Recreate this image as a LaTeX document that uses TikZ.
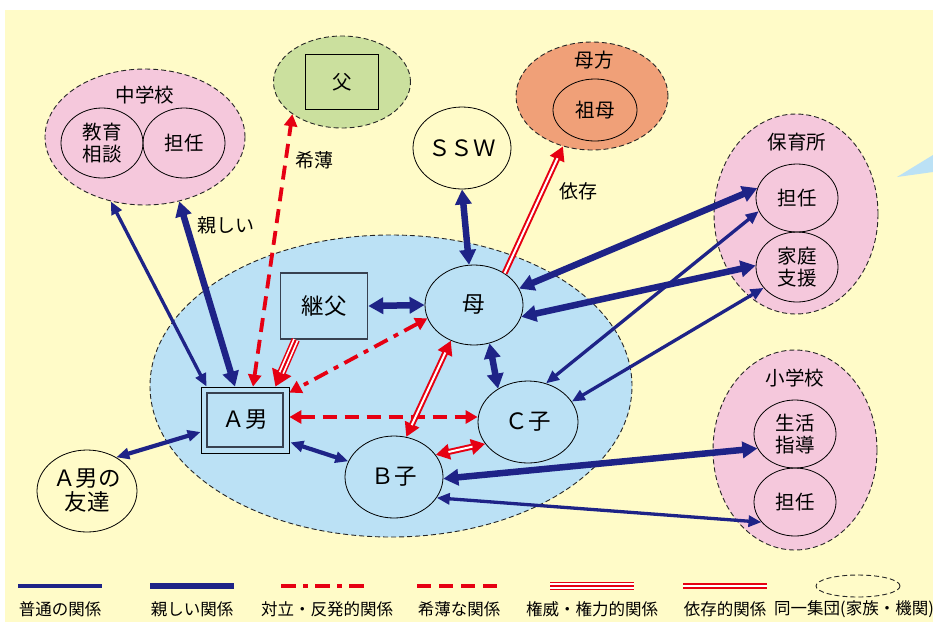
\documentclass[tikz,border=0pt]{standalone}
\usepackage{fontspec}
\setmainfont{Noto Sans CJK JP}
\usetikzlibrary{arrows.meta,shapes.geometric,calc}

\definecolor{cream}{RGB}{255,251,200}
\definecolor{famblue}{RGB}{187,225,245}
\definecolor{grppink}{RGB}{245,200,220}
\definecolor{grpgreen}{RGB}{203,224,158}
\definecolor{grporange}{RGB}{240,160,120}
\definecolor{navy}{RGB}{30,35,135}
\definecolor{relred}{RGB}{230,0,18}
\definecolor{boxgray}{RGB}{55,65,80}

\tikzset{
  grp/.style={ellipse, draw=black!85, dash pattern=on 5pt off 3pt, line width=0.9pt, inner sep=0pt},
  mem/.style={ellipse, draw=black, line width=0.8pt, inner sep=0pt, align=center},
  bigtxt/.style={font=\fontsize{22.5}{24}\selectfont},
  midtxt/.style={font=\fontsize{19.5}{22}\selectfont},
  lbltxt/.style={font=\fontsize{19}{20}\selectfont},
  legtxt/.style={font=\fontsize{16.5}{18}\selectfont},
  relnormal/.style={draw=navy, line width=3.3pt,
    arrows={Triangle[length=13pt,width=11pt]-Triangle[length=13pt,width=11pt]}},
  relclose/.style={draw=navy, line width=6.5pt,
    arrows={Triangle[length=15pt,width=16pt]-Triangle[length=15pt,width=16pt]}},
  relweak/.style={draw=relred, line width=3.8pt, dash pattern=on 14pt off 8pt,
    arrows={Triangle[length=12pt,width=13pt]-Triangle[length=12pt,width=13pt]}},
  relconflict/.style={draw=relred, line width=3.8pt, dash pattern=on 15pt off 7pt on 5pt off 7pt,
    arrows={Triangle[length=12pt,width=13pt]-Triangle[length=12pt,width=13pt]}},
  reldep/.style={draw=relred, line width=6pt,
    arrows={-Triangle[length=14pt,width=15pt]},
    postaction={draw=white, line width=2pt, arrows=-, shorten >=13pt}},
  reldepboth/.style={draw=relred, line width=6pt,
    arrows={Triangle[length=14pt,width=15pt]-Triangle[length=14pt,width=15pt]},
    postaction={draw=white, line width=2pt, arrows=-, shorten >=13pt, shorten <=13pt}},
  relauth/.style={draw=relred, line width=8.5pt,
    arrows={-Triangle[length=16pt,width=20pt]},
    postaction={draw=white, line width=5.5pt, arrows=-, shorten >=15pt},
    postaction={draw=relred, line width=2pt, arrows=-, shorten >=15pt}},
}

\begin{document}
\begin{tikzpicture}[x=1pt,y=-1pt]
\useasboundingbox (0,0) rectangle (933,622);
\fill[white] (0,0) rectangle (933,622);
\fill[cream] (5,10) rectangle (933,622);
\fill[famblue] (897,177) -- (933,155) -- (933,172) -- cycle;

% family group
\node[grp, fill=famblue, minimum width=482pt, minimum height=302pt] (family) at (391,386) {};

% 中学校
\node[grp, fill=grppink, minimum width=200pt, minimum height=136pt] (chu) at (145,137) {};
\node[midtxt] (chulab) at (145,95) {中学校};
\node[mem, midtxt, minimum width=82pt, minimum height=70pt] (kyoiku) at (102,143) {教育\\相談};
\node[mem, midtxt, minimum width=82pt, minimum height=70pt] (chutan) at (184,143) {担任};

% 父
\node[grp, fill=grpgreen, minimum width=137pt, minimum height=92pt] (fu) at (342,82) {};
\node[draw=black, line width=1.4pt, minimum width=73pt, minimum height=55pt, midtxt] (fubox) at (342,82) {父};

% 母方
\node[grp, fill=grporange, minimum width=152pt, minimum height=108pt] (bokata) at (592,96) {};
\node[midtxt] (bokatalab) at (594,60) {母方};
\node[mem, midtxt, minimum width=84pt, minimum height=62pt] (sobo) at (595,110) {祖母};

% SSW
\node[mem, fill=cream, bigtxt, minimum width=98pt, minimum height=82pt] (ssw) at (462,148) {ＳＳＷ};

% 保育所
\node[grp, fill=grppink, minimum width=164pt, minimum height=200pt] (hoiku) at (796,214) {};
\node[midtxt] (hoikulab) at (797,142) {保育所};
\node[mem, midtxt, minimum width=82pt, minimum height=68pt] (hotan) at (797,198) {担任};
\node[mem, midtxt, minimum width=82pt, minimum height=70pt] (katei) at (797,267) {家庭\\支援};

% 小学校
\node[grp, fill=grppink, minimum width=164pt, minimum height=200pt] (sho) at (795,450) {};
\node[midtxt] (sholab) at (795,378) {小学校};
\node[mem, midtxt, minimum width=82pt, minimum height=68pt] (seikatsu) at (795,434) {生活\\指導};
\node[mem, midtxt, minimum width=82pt, minimum height=68pt] (shotan) at (795,502) {担任};

% A男の友達
\node[mem, fill=cream, bigtxt, minimum width=100pt, minimum height=82pt] (tomo) at (87,491) {Ａ男の\\友達};

% family members
\node[draw=black, line width=0.8pt, fill=famblue, minimum width=88pt, minimum height=66pt] (Aman) at (245,420) {};
\node[draw=boxgray, line width=1.8pt, minimum width=76pt, minimum height=54pt, bigtxt] (Amanin) at (245,420) {Ａ男};
\node[draw=boxgray, line width=1.5pt, fill=famblue, minimum width=87pt, minimum height=66pt, bigtxt] (keifu) at (324,306) {継父};
\node[mem, fill=famblue, bigtxt, minimum width=98pt, minimum height=80pt] (haha) at (474,305) {母};
\node[mem, fill=famblue, bigtxt, minimum width=100pt, minimum height=82pt] (cko) at (528,422) {Ｃ子};
\node[mem, fill=famblue, bigtxt, minimum width=98pt, minimum height=82pt] (bko) at (394,477) {Ｂ子};

% connectors
\draw[relnormal] ($(Aman.north west)+(6,0)$) -- (chu.242);
\draw[relclose] ($(Aman.north)+(-10,0)$) -- (chu.298);
\draw[relweak] ($(Aman.north)+(8,0)$) -- (fu.213);
\draw[relauth] ($(keifu.south west)+(16,0)$) -- ($(Aman.north east)+(-14,0)$);
\draw[relconflict] (haha.196) -- ($(Aman.north east)+(0,6)$);
\draw[relweak] ($(Aman.east)+(0,-3)$) -- ($(cko.west)+(0,-5)$);
\draw[relnormal, line width=4.2pt] ($(Aman.south east)+(1,-11)$) -- (bko.161);
\draw[relnormal, line width=4.2pt] ($(Aman.west)+(0,12)$) -- (tomo.49);
\draw[relclose] (keifu.east) -- (haha.west);
\draw[relclose] (ssw.south) -- (haha.97);
\draw[reldep] (haha.46) -- (bokata.240);
\draw[relclose] (haha.20) -- (hotan.166);
\draw[relclose] (haha.-14) -- (katei.178);
\draw[relclose] (haha.-68) -- (cko.132);
\draw[reldepboth] (haha.237) -- (bko.73);
\draw[reldepboth] (bko.28) -- (cko.207);
\draw[relnormal] (cko.65) -- (hotan.199);
\draw[relnormal] (cko.25) -- (katei.212);
\draw[relclose] (bko.-2) -- (seikatsu.201);
\draw[relnormal] (bko.-26) -- (shotan.211);

% labels
\node[lbltxt] (lshitashii) at (226,225) {親しい};
\node[lbltxt] (lkihaku) at (314,160) {希薄};
\node[lbltxt] (lizon) at (578,191) {依存};

% legend
\draw[navy, line width=3.3pt] (18,586) -- (102,586);
\draw[navy, line width=6.5pt] (150,586) -- (234,586);
\draw[relred, line width=3.8pt, dash pattern=on 15pt off 7pt on 5pt off 7pt] (281,586) -- (371,586);
\draw[relred, line width=3.8pt, dash pattern=on 14pt off 8pt] (417,586) -- (501,586);
\draw[relred, line width=8.5pt] (550,586) -- (634,586);
\draw[white, line width=5.5pt] (550,586) -- (634,586);
\draw[relred, line width=2pt] (550,586) -- (634,586);
\draw[relred, line width=6pt] (683,586) -- (767,586);
\draw[white, line width=2pt] (683,586) -- (767,586);
\node[ellipse, draw=black!85, dash pattern=on 5pt off 3pt, line width=0.9pt, minimum width=84pt, minimum height=22pt, inner sep=0pt] (legell) at (858,586) {};
\node[legtxt] (lg1) at (60,609) {普通の関係};
\node[legtxt] (lg2) at (192,609) {親しい関係};
\node[legtxt] (lg3) at (327,609) {対立・反発的関係};
\node[legtxt] (lg4) at (459,609) {希薄な関係};
\node[legtxt] (lg5) at (592,609) {権威・権力的関係};
\node[legtxt] (lg6) at (725,609) {依存的関係};
\node[legtxt] (lg7) at (854,609) {同一集団(家族・機関)};
\end{tikzpicture}
\end{document}
